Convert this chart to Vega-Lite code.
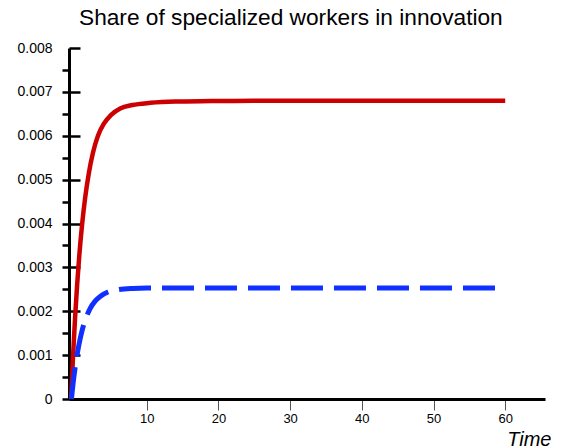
{
  "$schema": "https://vega.github.io/schema/vega-lite/v6.json",
  "width": 476,
  "height": 351,
  "autosize": "none",
  "padding": {"left": 69, "top": 48, "right": 21, "bottom": 49},
  "background": "white",
  "config": {"view": {"stroke": null}, "font": "Liberation Sans"},
  "title": {
    "text": "Share of specialized workers in innovation",
    "font": "Liberation Sans",
    "fontSize": 22.7,
    "fontWeight": "normal",
    "color": "black",
    "anchor": "start",
    "frame": "group",
    "dx": 10,
    "offset": 11
  },
  "data": {
    "values": [
      {"series": "Series 1", "time": -0.55, "share": 0},
      {"series": "Series 1", "time": -0.3, "share": 0.0009},
      {"series": "Series 1", "time": 0, "share": 0.00183},
      {"series": "Series 1", "time": 0.3, "share": 0.00262},
      {"series": "Series 1", "time": 0.6, "share": 0.00328},
      {"series": "Series 1", "time": 1.0, "share": 0.004},
      {"series": "Series 1", "time": 1.4, "share": 0.00457},
      {"series": "Series 1", "time": 1.9, "share": 0.00512},
      {"series": "Series 1", "time": 2.5, "share": 0.00561},
      {"series": "Series 1", "time": 3.2, "share": 0.006},
      {"series": "Series 1", "time": 4.0, "share": 0.00627},
      {"series": "Series 1", "time": 5.0, "share": 0.00647},
      {"series": "Series 1", "time": 6.3, "share": 0.00662},
      {"series": "Series 1", "time": 8.0, "share": 0.0067},
      {"series": "Series 1", "time": 10.5, "share": 0.00675},
      {"series": "Series 1", "time": 14, "share": 0.00678},
      {"series": "Series 1", "time": 19, "share": 0.00679},
      {"series": "Series 1", "time": 25, "share": 0.0068},
      {"series": "Series 1", "time": 30, "share": 0.0068},
      {"series": "Series 1", "time": 40, "share": 0.0068},
      {"series": "Series 1", "time": 50, "share": 0.0068},
      {"series": "Series 1", "time": 60, "share": 0.0068},
      {"series": "Series 2", "time": -0.5, "share": 0},
      {"series": "Series 2", "time": -0.2, "share": 0.00045},
      {"series": "Series 2", "time": 0.1, "share": 0.00081},
      {"series": "Series 2", "time": 0.5, "share": 0.0012},
      {"series": "Series 2", "time": 1.0, "share": 0.00157},
      {"series": "Series 2", "time": 1.5, "share": 0.00183},
      {"series": "Series 2", "time": 2.1, "share": 0.00206},
      {"series": "Series 2", "time": 2.8, "share": 0.00223},
      {"series": "Series 2", "time": 3.6, "share": 0.00235},
      {"series": "Series 2", "time": 4.6, "share": 0.00244},
      {"series": "Series 2", "time": 6.0, "share": 0.00249},
      {"series": "Series 2", "time": 8, "share": 0.00252},
      {"series": "Series 2", "time": 10, "share": 0.00253},
      {"series": "Series 2", "time": 15, "share": 0.00253},
      {"series": "Series 2", "time": 20, "share": 0.00253},
      {"series": "Series 2", "time": 30, "share": 0.00253},
      {"series": "Series 2", "time": 40, "share": 0.00253},
      {"series": "Series 2", "time": 50, "share": 0.00253},
      {"series": "Series 2", "time": 60, "share": 0.00253}
    ]
  },
  "layer": [
    {
      "transform": [{"filter": "datum.series == 'Series 1'"}],
      "mark": {"type": "line", "color": "#cc0000", "strokeWidth": 4.5, "interpolate": "monotone"},
      "encoding": {
        "x": {
          "field": "time",
          "type": "quantitative",
          "scale": {"domain": [-0.84, 65.55], "nice": false, "zero": false},
          "axis": {
            "values": [10, 20, 30, 40, 50, 60],
            "grid": false,
            "domainColor": "black",
            "domainWidth": 3,
            "tickColor": "#555555",
            "tickWidth": 1,
            "tickSize": 11,
            "labelFont": "Liberation Sans",
            "labelFontSize": 13,
            "labelColor": "black",
            "labelPadding": 2,
            "labelFlush": false,
            "title": "Time",
            "titleFont": "Liberation Sans",
            "titleFontStyle": "italic",
            "titleFontSize": 20,
            "titleFontWeight": "normal",
            "titleColor": "black",
            "titleAlign": "right",
            "titleAnchor": "end",
            "titleBaseline": "alphabetic",
            "titleX": 482,
            "titleY": 46
          }
        },
        "y": {
          "field": "share",
          "type": "quantitative",
          "scale": {"domain": [0, 0.008], "nice": false},
          "axis": {
            "orient": "left",
            "values": [0, 0.0005, 0.001, 0.0015, 0.002, 0.0025, 0.003, 0.0035, 0.004, 0.0045, 0.005, 0.0055, 0.006, 0.0065, 0.007, 0.0075, 0.008],
            "grid": false,
            "title": null,
            "domainColor": "black",
            "domainWidth": 3,
            "tickSize": 7,
            "tickWidth": 2.5,
            "tickColor": {"condition": {"test": "datum.value > 0.0079", "value": "transparent"}, "value": "black"},
            "labelExpr": "abs(datum.value * 1000 - round(datum.value * 1000)) < 0.01 ? (datum.value == 0 ? '0' : format(datum.value, '.3f')) : ''",
            "labelFont": "Liberation Sans",
            "labelFontSize": 14,
            "labelColor": "black",
            "labelPadding": 10,
            "labelFlush": false,
            "labelOverlap": false
          }
        }
      }
    },
    {
      "transform": [{"filter": "datum.series == 'Series 2'"}],
      "mark": {"type": "line", "color": "#1030ff", "strokeWidth": 5, "strokeDash": [32, 11], "interpolate": "monotone"},
      "encoding": {
        "x": {"field": "time", "type": "quantitative"},
        "y": {
          "field": "share",
          "type": "quantitative",
          "axis": {
            "orient": "left",
            "values": [0, 0.001, 0.002, 0.003, 0.004, 0.005, 0.006, 0.007, 0.008],
            "grid": false,
            "title": null,
            "domain": false,
            "labels": false,
            "tickSize": -11,
            "tickWidth": 2.5,
            "tickColor": "black"
          }
        }
      }
    }
  ],
  "resolve": {"axis": {"y": "independent"}}
}
